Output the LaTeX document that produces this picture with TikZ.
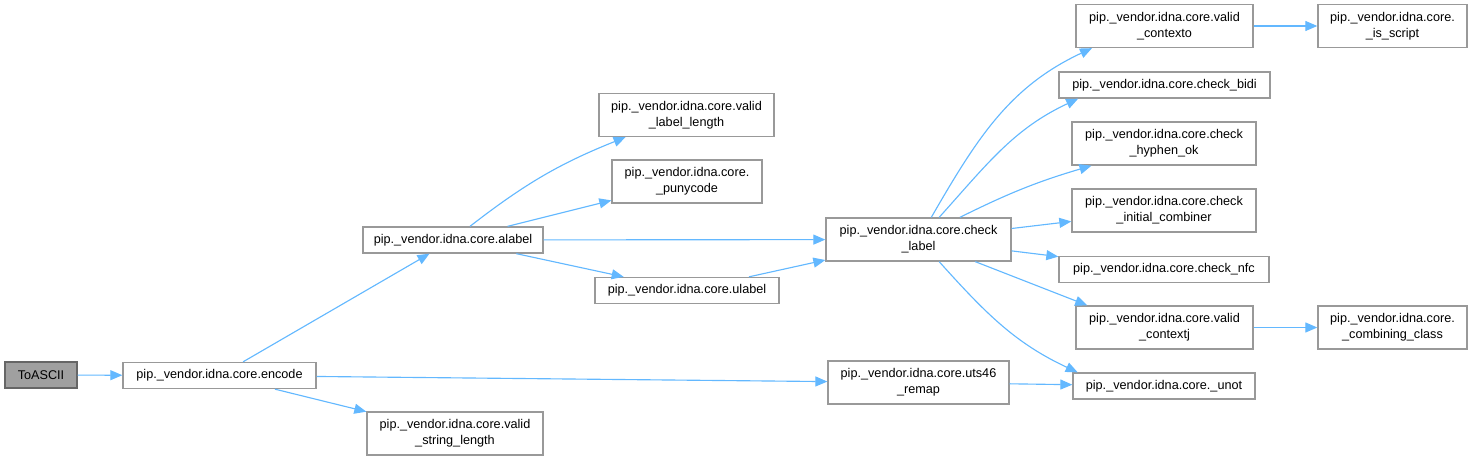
\documentclass[tikz,border=0pt]{standalone}
\usepackage{fontspec}
\setmainfont{Liberation Sans}
\definecolor{edgeblue}{RGB}{99, 184, 255}
\definecolor{boxgray}{RGB}{153, 153, 153}
\definecolor{rootgray}{RGB}{160, 160, 160}
\definecolor{rootborder}{RGB}{102, 102, 102}
\usetikzlibrary{
    arrows.meta,
    positioning
}

\begin{document}
\begin{tikzpicture}[x=0.75pt, y=0.75pt,
    fn/.style={draw=boxgray, line width=1pt, fill=white, inner sep=0pt, align=center,
               minimum height=19.5pt, font=\fontsize{9.5}{12}\selectfont},
    fn2/.style={fn, minimum height=32.25pt},
    edge/.style={draw=edgeblue, line width=0.85pt, -{Triangle[length=9pt, width=7.5pt]}}]
            \useasboundingbox (0,0) rectangle (1473,-460);

            % Root and first level
            \node[fn, fill=rootgray, draw=rootborder, minimum width=54pt] (toascii) at (41,-375) {ToASCII};
            \node[fn, minimum width=144.75pt] (encode) at (219.5,-375.5) {pip.\_vendor.idna.core.encode};
            \node[fn2, minimum width=132pt] (valid_string_length) at (455,-433.5) {pip.\_vendor.idna.core.valid\\\_string\_length};
            \node[fn, minimum width=135pt] (alabel) at (453,-240) {pip.\_vendor.idna.core.alabel};

            % Called from alabel
            \node[fn2, minimum width=131.25pt] (valid_label_length) at (686.5,-115) {pip.\_vendor.idna.core.valid\\\_label\_length};
            \node[fn2, minimum width=112.5pt] (punycode) at (687,-181.5) {pip.\_vendor.idna.core.\\\_punycode};
            \node[fn, minimum width=138pt] (ulabel) at (687,-290.5) {pip.\_vendor.idna.core.ulabel};
            \node[fn2, minimum width=138.75pt] (check_label) at (918.5,-239.5) {pip.\_vendor.idna.core.check\\\_label};
            \node[fn2, minimum width=135.75pt] (uts46_remap) at (918.5,-382.5) {pip.\_vendor.idna.core.uts46\\\_remap};

            % Called from check_label
            \node[fn2, minimum width=132.75pt] (valid_contexto) at (1164.5,-26) {pip.\_vendor.idna.core.valid\\\_contexto};
            \node[fn, minimum width=158.25pt] (check_bidi) at (1164.5,-85) {pip.\_vendor.idna.core.check\_bidi};
            \node[fn2, minimum width=138pt] (check_hyphen_ok) at (1164,-143.5) {pip.\_vendor.idna.core.check\\\_hyphen\_ok};
            \node[fn2, minimum width=138pt] (check_initial_combiner) at (1164,-210.5) {pip.\_vendor.idna.core.check\\\_initial\_combiner};
            \node[fn, minimum width=157.5pt] (check_nfc) at (1164,-269.5) {pip.\_vendor.idna.core.check\_nfc};
            \node[fn2, minimum width=132.75pt] (valid_contextj) at (1164.5,-327.5) {pip.\_vendor.idna.core.valid\\\_contextj};
            \node[fn, minimum width=136.5pt] (unot) at (1164,-386) {pip.\_vendor.idna.core.\_unot};
            \node[fn2, minimum width=111.75pt] (is_script) at (1392.5,-26) {pip.\_vendor.idna.core.\\\_is\_script};
            \node[fn2, minimum width=111.75pt] (combining_class) at (1392.5,-327.5) {pip.\_vendor.idna.core.\\\_combining\_class};

            % Calls
            \draw[edge] (toascii) -- (encode);
            \draw[edge] (encode) -- (alabel);
            \draw[edge] (encode) -- (uts46_remap);
            \draw[edge] (encode) -- (valid_string_length);
            \draw[edge] (alabel) to[bend left=8] (valid_label_length.200);
            \draw[edge] (alabel) -- (punycode);
            \draw[edge] (alabel) -- (check_label);
            \draw[edge] (alabel) -- (ulabel);
            \draw[edge] (ulabel) -- (check_label);
            \draw[edge] (check_label.60) to[out=60, in=205] (valid_contexto.197);
            \draw[edge] (check_label.47) to[out=48, in=205] (check_bidi.189);
            \draw[edge] (check_label) to[bend left=5] (check_hyphen_ok.197);
            \draw[edge] (check_label) -- (check_initial_combiner);
            \draw[edge] (check_label) -- (check_nfc);
            \draw[edge] (check_label) -- (valid_contextj.164);
            \draw[edge] (check_label.-47) to[out=-48, in=155] (unot.171);
            \draw[edge] (uts46_remap) -- (unot);
            \draw[edge] (valid_contexto) -- (is_script);
            \draw[edge] (valid_contextj) -- (combining_class);
        \end{tikzpicture}
\end{document}
